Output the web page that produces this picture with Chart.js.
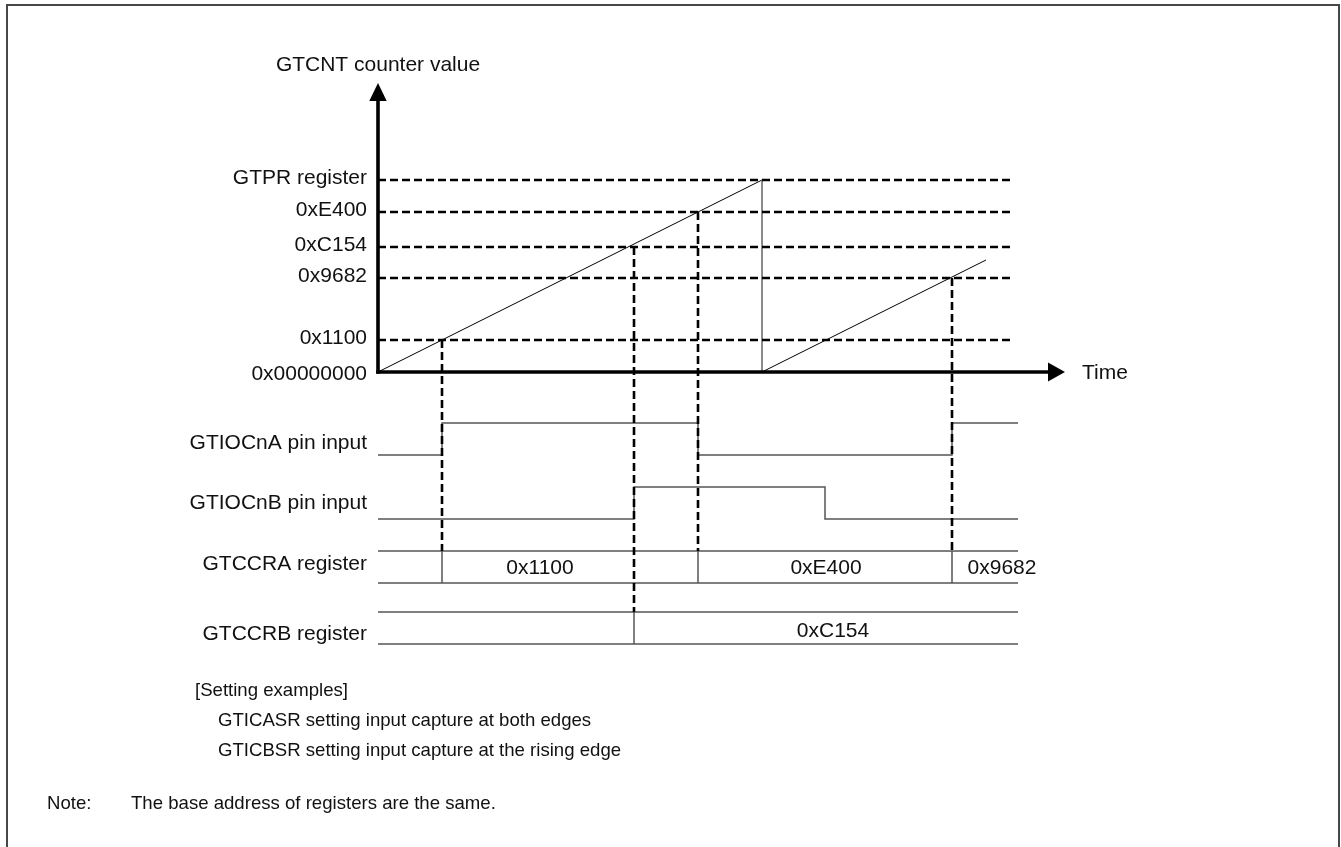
<!DOCTYPE html>
<html>
<head>
<meta charset="utf-8">
<script src="https://cdn.jsdelivr.net/npm/chart.js@4.4.1/dist/chart.umd.min.js"></script>
<style>
html,body{margin:0;padding:0;background:#fff;overflow:hidden;width:1341px;height:847px;}
#wrap{position:relative;width:1341px;height:847px;overflow:hidden;}
#c{position:absolute;left:0;top:0;}
#frame{position:absolute;left:6px;top:4px;width:1330px;height:900px;border:2px solid #474747;pointer-events:none;}
.note{position:absolute;font-family:"Liberation Sans",Arial,sans-serif;font-size:18.6px;color:#111;white-space:nowrap;line-height:22px;}
</style>
</head>
<body>
<div id="wrap">
  <canvas id="c" width="1341" height="847"></canvas>
  <div id="frame"></div>
  <div class="note" style="left:195px;top:679px">[Setting examples]</div>
  <div class="note" style="left:218px;top:709px">GTICASR setting input capture at both edges</div>
  <div class="note" style="left:218px;top:739px">GTICBSR setting input capture at the rising edge</div>
  <div class="note" style="left:47px;top:792px">Note:</div>
  <div class="note" style="left:131px;top:792px">The base address of registers are the same.</div>
</div>
<script>
// ---------------- data (schematic units) ----------------
const levelLabels  = ['0x00000000', '0x1100', '0x9682', '0xC154', '0xE400', 'GTPR register'];
const levelValues  = [0, 32, 94, 125, 160, 192];          // counter heights
const counterTimes  = [0, 192, 192, 304];                 // GTCNT sawtooth
const counterValues = [0, 192, 0, 112];
const captureTimes  = [32, 128, 160, 287];                // capture instants
const captureLevels = [32, 125, 160, 94];
const captureRows   = ['yCCRA', 'yCCRB', 'yCCRA', 'yCCRA'];
const pinATimes  = [0, 32, 160, 287, 320];                // GTIOCnA pin
const pinAValues = [0, 1, 0, 1, 1];
const pinBTimes  = [0, 128, 223.5, 320];                  // GTIOCnB pin
const pinBValues = [0, 1, 0, 0];
const ccraChangeTimes = [32, 160, 287];                   // GTCCRA register
const ccraLabels      = ['0x1100', '0xE400', '0x9682'];
const ccraLabelTimes  = [81, 224, 312];
const ccrbChangeTimes = [128];                            // GTCCRB register
const ccrbLabels      = ['0xC154'];
const ccrbLabelTimes  = [227.5];
const rowLabels   = ['GTIOCnA pin input', 'GTIOCnB pin input', 'GTCCRA register', 'GTCCRB register'];
const rowAxisIds  = ['yA', 'yB', 'yCCRA', 'yCCRB'];
const rowLabelAt  = [0.375, 0.5, 0.59, 0.31];
const yTitle = 'GTCNT counter value';
const xTitle = 'Time';
const timeEnd = 320;      // end of signal rows
const guideEnd = 318;     // end of dashed level guides
const axisTimeTip = 343.5;
const axisCountTip = 289;

// ---------------- layout ----------------
const W = 1341, H = 847;
const X0 = 378, PX_T = 2;      // pixel of time 0, px per time unit
const Y0 = 372, PX_C = 1;      // pixel of counter 0, px per count
const rows = { yA: [455, 423], yB: [519, 487], yCCRA: [583, 551], yCCRB: [644, 612] };
const FONT = '"Liberation Sans", Arial, sans-serif';
const DASH = [8, 4];

function rowScale(id) {
  const [lo, hi] = rows[id], amp = lo - hi;
  return { display: false, min: (lo - H) / amp, max: lo / amp };
}
const pts = (xs, ys) => xs.map((x, i) => ({ x, y: ys[i] }));
const seps = ts => ts.flatMap(t => [{ x: t, y: 0 }, { x: t, y: 1 }, { x: t, y: null }]);

const base = { showLine: true, pointRadius: 0, fill: false, tension: 0, spanGaps: false };
const sig = { ...base, borderColor: '#555', borderWidth: 1.5 };
const datasets = [];

levelValues.slice(1).forEach(v => datasets.push({ ...base, yAxisID: 'y',
  data: [{ x: 0, y: v }, { x: guideEnd, y: v }], borderColor: '#000', borderWidth: 2.6, borderDash: DASH }));

datasets.push({ ...base, yAxisID: 'y', data: pts(counterTimes, counterValues), borderColor: '#000', borderWidth: 1,
  segment: { borderColor: c => c.p0.parsed.x === c.p1.parsed.x ? '#7a7a7a' : '#000' } });

datasets.push({ ...sig, yAxisID: 'yA', stepped: 'before', data: pts(pinATimes, pinAValues) });
datasets.push({ ...sig, yAxisID: 'yB', stepped: 'before', data: pts(pinBTimes, pinBValues) });

[['yCCRA', ccraChangeTimes], ['yCCRB', ccrbChangeTimes]].forEach(([id, ts]) => {
  datasets.push({ ...sig, yAxisID: id, data: [{ x: 0, y: 1 }, { x: timeEnd, y: 1 }] });
  datasets.push({ ...sig, yAxisID: id, data: [{ x: 0, y: 0 }, { x: timeEnd, y: 0 }] });
  datasets.push({ ...sig, yAxisID: id, data: seps(ts) });
});

const diagram = {
  id: 'diagram',
  afterDatasetsDraw(chart) {
    const ctx = chart.ctx, s = chart.scales, xs = s.x, ys = s.y;
    ctx.save();
    // capture dashed verticals
    ctx.strokeStyle = '#000'; ctx.lineWidth = 2.6; ctx.setLineDash(DASH);
    captureTimes.forEach((t, i) => {
      const x = xs.getPixelForValue(t);
      ctx.beginPath();
      ctx.moveTo(x, ys.getPixelForValue(captureLevels[i]));
      ctx.lineTo(x, s[captureRows[i]].getPixelForValue(1));
      ctx.stroke();
    });
    ctx.setLineDash([]);
    // axes with arrows
    const ox = xs.getPixelForValue(0), oy = ys.getPixelForValue(0);
    const tipY = ys.getPixelForValue(axisCountTip), tipX = xs.getPixelForValue(axisTimeTip);
    ctx.lineWidth = 3.6; ctx.lineCap = 'butt';
    ctx.beginPath(); ctx.moveTo(ox, oy + 1.8); ctx.lineTo(ox, tipY + 16); ctx.stroke();
    ctx.beginPath(); ctx.moveTo(ox - 1.8, oy); ctx.lineTo(tipX - 15, oy); ctx.stroke();
    ctx.fillStyle = '#000';
    ctx.beginPath(); ctx.moveTo(ox, tipY); ctx.lineTo(ox - 8.7, tipY + 18); ctx.lineTo(ox + 8.7, tipY + 18); ctx.closePath(); ctx.fill();
    ctx.beginPath(); ctx.moveTo(tipX, oy); ctx.lineTo(tipX - 17, oy - 9.5); ctx.lineTo(tipX - 17, oy + 9.5); ctx.closePath(); ctx.fill();
    // texts
    ctx.fillStyle = '#111'; ctx.font = '21px ' + FONT; ctx.textBaseline = 'middle';
    ctx.textAlign = 'right';
    levelLabels.forEach((l, i) => {
      const y = ys.getPixelForValue(levelValues[i]) + (levelValues[i] === 0 ? 2 : -2);
      ctx.fillText(l, ox - 11, y);
    });
    rowLabels.forEach((l, i) => ctx.fillText(l, ox - 11, s[rowAxisIds[i]].getPixelForValue(rowLabelAt[i])));
    ctx.textAlign = 'center';
    ctx.fillText(yTitle, ox, tipY - 18);
    ccraLabels.forEach((l, i) => ctx.fillText(l, xs.getPixelForValue(ccraLabelTimes[i]), s.yCCRA.getPixelForValue(0.47)));
    ccrbLabels.forEach((l, i) => ctx.fillText(l, xs.getPixelForValue(ccrbLabelTimes[i]), s.yCCRB.getPixelForValue(0.41)));
    ctx.textAlign = 'left';
    ctx.fillText(xTitle, tipX + 17, oy + 1);
    ctx.restore();
  }
};

new Chart(document.getElementById('c'), {
  type: 'scatter',
  data: { datasets },
  options: {
    responsive: false, animation: false, devicePixelRatio: 1, events: [],
    layout: { padding: 0 },
    plugins: { legend: { display: false }, tooltip: { enabled: false }, title: { display: false } },
    scales: {
      x: { type: 'linear', display: false, min: -X0 / PX_T, max: (W - X0) / PX_T },
      y: { type: 'linear', display: false, min: (Y0 - H) / PX_C, max: Y0 / PX_C },
      yA: rowScale('yA'), yB: rowScale('yB'), yCCRA: rowScale('yCCRA'), yCCRB: rowScale('yCCRB')
    }
  },
  plugins: [diagram]
});
</script>
</body>
</html>
